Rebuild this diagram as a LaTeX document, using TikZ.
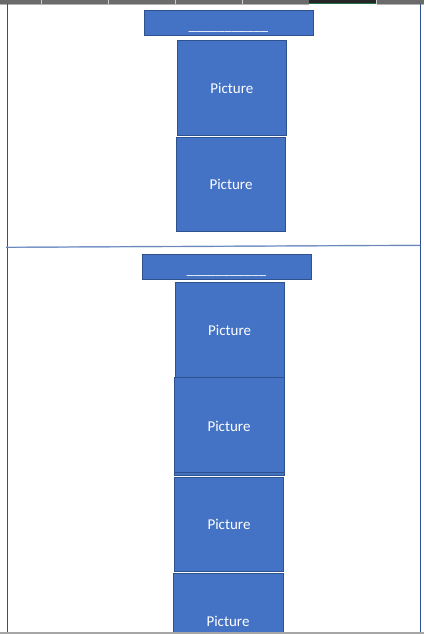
\documentclass[tikz,border=0pt]{standalone}
\usepackage{fontspec}
\setmainfont{Carlito}
\definecolor{boxfill}{HTML}{4472C4}
\definecolor{boxline}{HTML}{2F528F}
\definecolor{barg}{HTML}{6B6B6B}
\definecolor{bard}{HTML}{262626}
\definecolor{xlgreen}{HTML}{217346}
\definecolor{sepblue}{HTML}{8FAADC}
\newcommand{\pictxt}{\raisebox{-1pt}{Picture}}
\tikzset{
  x=1pt, y=-1pt,
  picbox/.style={draw=boxline, fill=boxfill, line width=1pt, text=white,
    font=\fontsize{15}{18}\selectfont, inner sep=0pt},
  headbox/.style={draw=boxline, fill=boxfill, line width=1pt, inner sep=0pt},
  headtext/.style={text=white, font=\fontsize{14.5}{17}\selectfont, inner sep=0pt, anchor=base},
}
\begin{document}
\begin{tikzpicture}
\useasboundingbox (0,0) rectangle (424,634);
\fill[white] (0,0) rectangle (424,634);
% top bar
\fill[barg] (0,0) rectangle (424,4);
\foreach \xx in {41.3,108.7,175.7,242.7}{\draw[gray!40, line width=0.8pt] (\xx,0) -- (\xx,4);}
\fill[bard] (309.3,0) rectangle (376.7,3);
\fill[xlgreen] (309.3,3) rectangle (376.7,4.5);
\draw[gray!40, line width=0.8pt] (376.7,0) -- (376.7,4);
\draw[gray!60, line width=0.6pt] (0,4.3) -- (309.3,4.3) (376.7,4.3) -- (424,4.3);
% frame lines
\draw[boxline, line width=1pt] (7.5,4.5) -- (7.5,632);
\draw[boxline, line width=1pt] (420.3,4.5) -- (420.3,632);
\draw[sepblue, line width=1.4pt] (6,247.3) -- (420,245.3);
\draw[boxline!80, line width=0.5pt] (6,247.3) -- (420,245.3);
% section 1
\node[headbox, minimum width=169.7pt, minimum height=25.7pt] (h1) at (228.9,22.9) {};
\node[headtext] (h1t) at (228.3,30.6) {\_\_\_\_\_\_\_\_\_\_\_};
\node[picbox, minimum width=109.7pt, minimum height=94.3pt] (p1) at (231.85,88.15) {\pictxt};
\node[picbox, minimum width=109.4pt, minimum height=94.6pt] (p2) at (231,184.3) {\pictxt};
% section 2
\node[headbox, minimum width=169.7pt, minimum height=25.7pt] (h2) at (226.85,266.85) {};
\node[headtext] (h2t) at (226.3,274.6) {\_\_\_\_\_\_\_\_\_\_\_};
\node[picbox, minimum width=109.3pt, minimum height=96.3pt] (p3) at (229.65,330.15) {\pictxt};
\node[picbox, minimum width=110pt, minimum height=97.3pt] (p4) at (229,426.35) {\pictxt};
\draw[boxline, line width=0.6pt] (174.5,472.3) -- (283.5,472.3);
\node[picbox, minimum width=109.4pt, minimum height=94.4pt] (p5) at (229,524.5) {\pictxt};
\begin{scope}
\clip (0,0) rectangle (424,632);
\node[picbox, minimum width=110pt, minimum height=96pt] (p6) at (228,621) {\pictxt};
\end{scope}
% bottom line
\fill[gray!70] (0,632) rectangle (424,634);
\end{tikzpicture}
\end{document}
